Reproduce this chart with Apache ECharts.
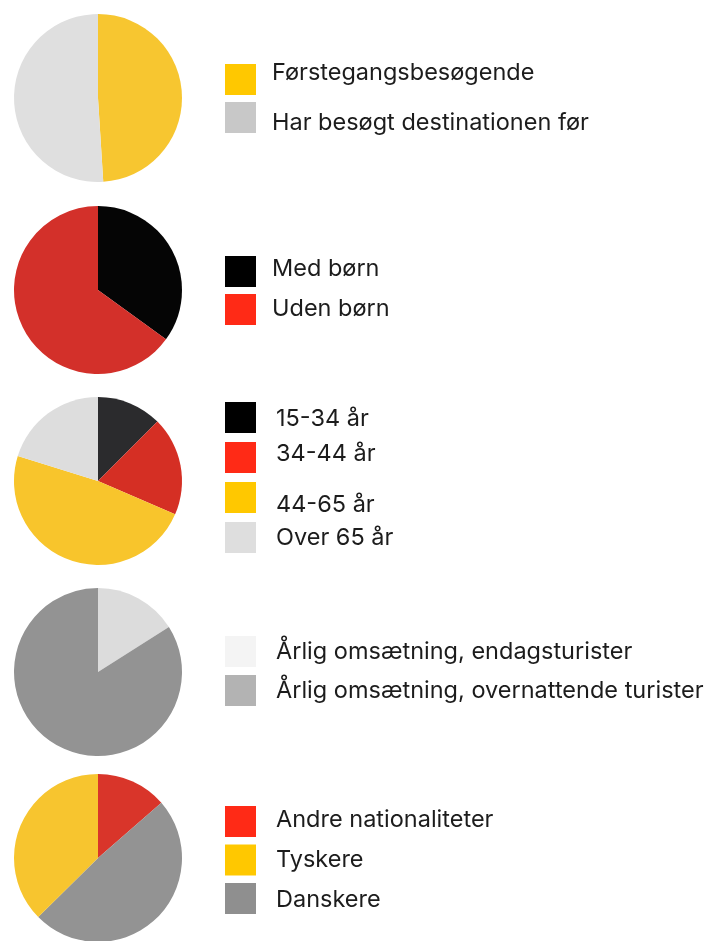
<!DOCTYPE html>
<html>
<head>
<meta charset="utf-8">
<script src="https://cdn.jsdelivr.net/npm/echarts@6/dist/echarts.min.js"></script>
<style>
html,body{margin:0;padding:0;background:#fff;}
#chart{width:709px;height:941px;}
</style>
</head>
<body>
<div id="chart"></div>
<script>
// ---- Data ----
var visitNames = ['Førstegangsbesøgende', 'Har besøgt destinationen før'];
var visitValues = [49, 51];

var kidsNames = ['Med børn', 'Uden børn'];
var kidsValues = [35, 65];

var ageNames = ['15-34 år', '34-44 år', '44-65 år', 'Over 65 år'];
var ageValues = [12.5, 19, 48.3, 20.2];

var revenueNames = ['Årlig omsætning, endagsturister', 'Årlig omsætning, overnattende turister'];
var revenueValues = [16, 84];

var nationNames = ['Andre nationaliteter', 'Danskere', 'Tyskere'];
var nationValues = [13.6, 49, 37.4];
var nationLegendOrder = ['Andre nationaliteter', 'Tyskere', 'Danskere'];

// ---- Styles / layout ----
var pieColors = [
  ['#F7C630', '#DFDFDF'],
  ['#050505', '#D3302A'],
  ['#2B2B2D', '#D52F24', '#F8C52C', '#DDDDDD'],
  ['#DCDCDC', '#939393'],
  ['#D9352A', '#939393', '#F7C52F']
];
var legendColors = [
  ['#FFC800', '#C8C8C8'],
  ['#000000', '#FF2A16'],
  ['#000000', '#FF2A16', '#FFC800', '#DEDEDE'],
  ['#F4F4F4', '#B3B3B3'],
  ['#FF2A16', '#FFC800', '#8F8F8F']
];
var pieCentersY = [98, 290, 481, 672, 858];
var swatchTops = [64, 256, 402, 636, 806];
var swatchGaps = [7, 7, 9, 8, 7.5];
var textCenters = [
  [72.8, 123.3],
  [268.7, 308.7],
  [418.7, 454.3, 504.7, 537.5],
  [651.7, 690.7],
  [820.3, 860.2, 899.5]
];
var textX = [272, 272, 276, 276, 276];
var LINE_H = 24;

var groups = [
  {names: visitNames, values: visitValues, legend: visitNames},
  {names: kidsNames, values: kidsValues, legend: kidsNames},
  {names: ageNames, values: ageValues, legend: ageNames},
  {names: revenueNames, values: revenueValues, legend: revenueNames},
  {names: nationNames, values: nationValues, legend: nationLegendOrder}
];

var series = [];
var legends = [];
groups.forEach(function (g, gi) {
  series.push({
    type: 'pie',
    radius: 84,
    center: [98, pieCentersY[gi]],
    startAngle: 90,
    clockwise: true,
    silent: true,
    label: {show: false},
    labelLine: {show: false},
    itemStyle: {borderWidth: 0},
    emphasis: {disabled: true},
    data: g.names.map(function (n, i) {
      return {name: n, value: g.values[i], itemStyle: {color: pieColors[gi][i]}};
    })
  });
  // swatches only
  legends.push({
    orient: 'vertical',
    left: 225,
    top: swatchTops[gi],
    padding: 0,
    itemWidth: 31,
    itemHeight: 31,
    itemGap: swatchGaps[gi],
    icon: 'rect',
    selectedMode: false,
    formatter: function () { return ''; },
    textStyle: {fontSize: 10, lineHeight: 10},
    data: g.legend.map(function (n, i) {
      return {name: n, itemStyle: {color: legendColors[gi][i], borderWidth: 0}};
    })
  });
  // texts only, one per item
  g.legend.forEach(function (n, i) {
    legends.push({
      orient: 'vertical',
      left: textX[gi] - 5,
      top: textCenters[gi][i] - LINE_H / 2,
      padding: 0,
      itemWidth: 0,
      itemHeight: 0,
      icon: 'rect',
      selectedMode: false,
      itemStyle: {opacity: 0, borderWidth: 0},
      textStyle: {fontFamily: 'Inter', fontSize: 23.5, color: '#1c1c1c', lineHeight: LINE_H},
      data: [{name: n}]
    });
  });
});

var chart = echarts.init(document.getElementById('chart'), null, {renderer: 'canvas'});
chart.setOption({
  animation: false,
  backgroundColor: '#ffffff',
  legend: legends,
  series: series
});
</script>
</body>
</html>
